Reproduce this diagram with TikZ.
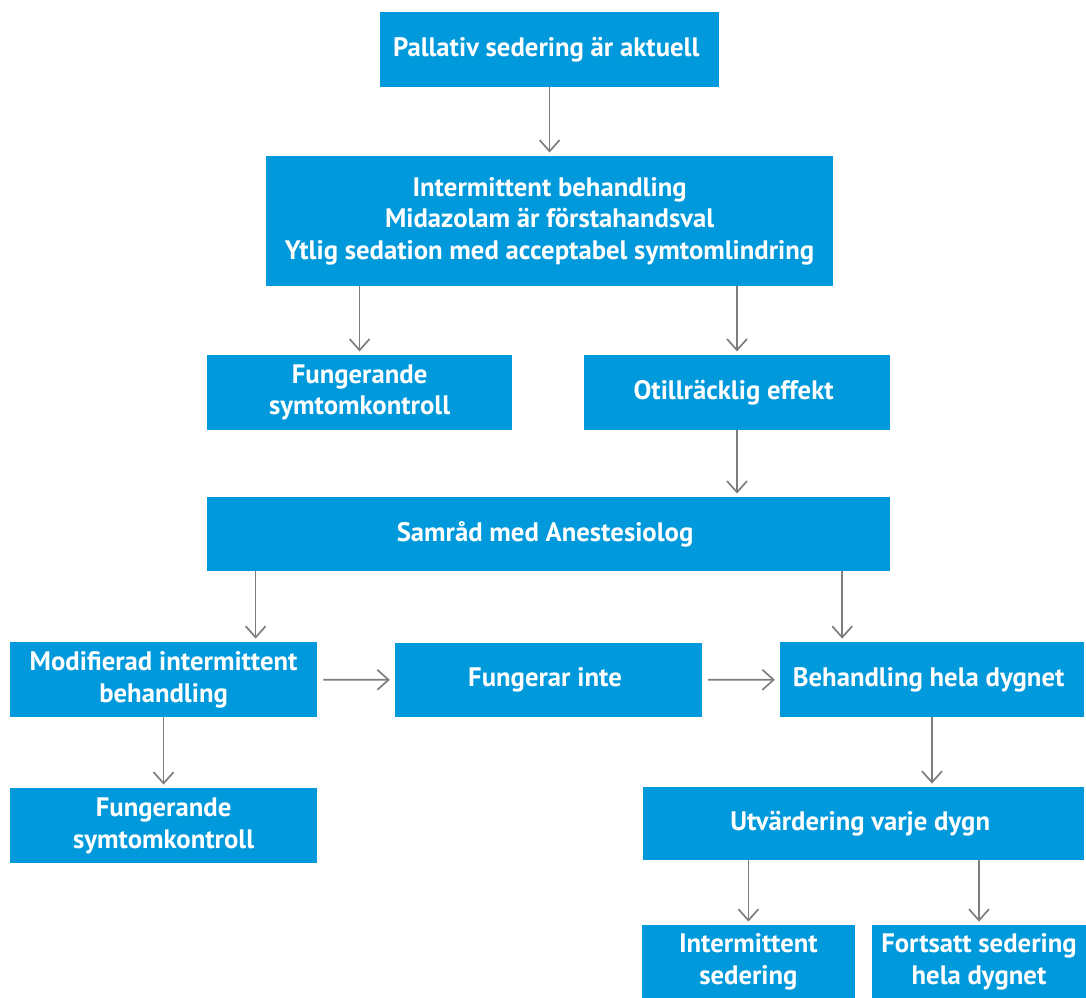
\documentclass[tikz,border=0pt]{standalone}
\usepackage{fontspec}
\setmainfont{PT Sans}
\usetikzlibrary{arrows.meta}
\definecolor{boxblue}{RGB}{0,153,220}
\definecolor{arrgray}{RGB}{125,125,125}
\tikzstyle{bx} = [fill=boxblue, text=white, rectangle, inner sep=0pt, align=center, font=\fontsize{19}{22.5}\selectfont\bfseries]
\tikzstyle{arr} = [draw=arrgray, line width=1.2pt, -{Straight Barb[length=0.28cm, width=0.5cm, line width=1.2pt]}, shorten >=0.08cm]

\begin{document}
\begin{tikzpicture}

	\useasboundingbox (0,0) rectangle (27.15,-24.95);
	\node [bx, minimum width=8.475cm, minimum height=1.875cm] (start) at (13.74,-1.24){%
		Pallativ sedering är aktuell
	};
	\node [bx, minimum width=14.175cm, minimum height=3.25cm] (inter) at (13.74,-5.525){%
		Intermittent behandling\\ Midazolam är förstahandsval\\ Ytlig sedation med acceptabel symtomlindring
	};
	\node [bx, minimum width=7.625cm, minimum height=1.875cm] (fung1) at (8.99,-9.81){%
		Fungerande\\ symtomkontroll
	};
	\node [bx, minimum width=7.65cm, minimum height=1.875cm] (otill) at (18.425,-9.81){%
		Otillräcklig effekt
	};
	\node [bx, minimum width=17.075cm, minimum height=1.85cm] (samrad) at (13.71,-13.35){%
		Samråd med Anestesiolog
	};
	\node [bx, minimum width=7.675cm, minimum height=1.875cm] (modif) at (4.09,-16.99){%
		Modifierad intermittent\\ behandling
	};
	\node [bx, minimum width=7.675cm, minimum height=1.85cm] (inte) at (13.71,-17.0){%
		Fungerar inte
	};
	\node [bx, minimum width=7.6cm, minimum height=1.875cm] (dygnet) at (23.3,-16.99){%
		Behandling hela dygnet
	};
	\node [bx, minimum width=7.675cm, minimum height=1.875cm] (fung2) at (4.09,-20.64){%
		Fungerande\\ symtomkontroll
	};
	\node [bx, minimum width=11.025cm, minimum height=1.825cm] (utv) at (21.59,-20.59){%
		Utvärdering varje dygn
	};
	\node [bx, minimum width=5.325cm, minimum height=1.825cm] (insed) at (18.71,-24.04){%
		Intermittent\\ sedering
	};
	\node [bx, minimum width=5.35cm, minimum height=1.825cm] (fort) at (24.475,-24.04){%
		Fortsatt sedering\\ hela dygnet
	};

	\draw [arr] (start) -- (inter);
	\draw [arr] (inter.south -| fung1) -- (fung1);
	\draw [arr] (inter.south -| otill) -- (otill);
	\draw [arr] (otill) -- (otill |- samrad.north);
	\draw [arr] ([xshift=1.225cm]samrad.south west) -- ([xshift=1.225cm]samrad.south west |- modif.north);
	\draw [arr] ([xshift=-1.2cm]samrad.south east) -- ([xshift=-1.2cm]samrad.south east |- dygnet.north);
	\draw [arr, shorten <=0.15cm, shorten >=0.12cm] (modif) -- (inte);
	\draw [arr, shorten <=0.15cm, shorten >=0.12cm] (inte) -- (dygnet);
	\draw [arr] (modif) -- (fung2);
	\draw [arr] (dygnet) -- (dygnet |- utv.north);
	\draw [arr] (utv.south -| insed) -- (insed);
	\draw [arr] (utv.south -| fort) -- (fort);
\end{tikzpicture}
\end{document}
